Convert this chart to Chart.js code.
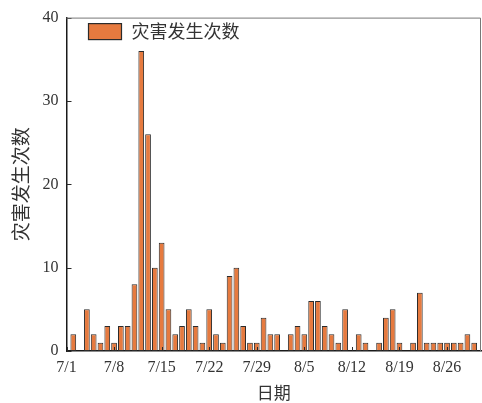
<!DOCTYPE html>
<html>
<head>
<meta charset="utf-8">
<script src="https://cdn.jsdelivr.net/npm/chart.js@4.4.0/dist/chart.umd.min.js"></script>
<style>
  html, body { margin: 0; padding: 0; background: #fff; }
  #wrap { width: 482px; height: 403px; }
</style>
</head>
<body>
<div id="wrap"><canvas id="chart-bar"></canvas></div>
<script>
// daily dates 7/1 .. 8/31
var july = [];
for (var d = 1; d <= 31; d++) july.push("7/" + d);
var august = [];
for (var d = 1; d <= 31; d++) august.push("8/" + d);
var dates = july.concat(august);

var julyCounts = [0, 2, 0, 5, 2, 1, 3, 1, 3, 3, 8, 36, 26, 10, 13, 5, 2, 3, 5, 3, 1, 5, 2, 1, 9, 10, 3, 1, 1, 4, 2];
var augustCounts = [2, 0, 2, 3, 2, 6, 6, 3, 2, 1, 5, 0, 2, 1, 0, 1, 4, 5, 1, 0, 1, 7, 1, 1, 1, 1, 1, 1, 2, 1, 0];
var counts = julyCounts.concat(augustCounts);

var yTicks = [0, 10, 20, 30, 40];
var seriesName = "灾害发生次数";

var serif = "'Liberation Serif', 'Noto Sans CJK SC', serif";
var cjk = "'Noto Sans CJK SC', serif";

// legend inside the plot, inward ticks and the frame
var framePlugin = {
  id: "frame",
  afterDatasetsDraw: function(chart) {
    var ctx = chart.ctx;
    var a = chart.chartArea;
    var xs = chart.scales.x, ys = chart.scales.y;
    ctx.save();
    ctx.strokeStyle = "#2a2a2a";
    ctx.lineWidth = 1;
    yTicks.forEach(function(v) {
      var py = Math.round(ys.getPixelForValue(v)) + 0.5;
      ctx.beginPath();
      ctx.moveTo(a.left, py);
      ctx.lineTo(a.left + 5, py);
      ctx.stroke();
    });
    dates.forEach(function(lab, i) {
      if (i % 7 !== 0) return;
      var px = Math.round(xs.getPixelForValue(i)) + 0.5;
      ctx.beginPath();
      ctx.moveTo(px, a.bottom);
      ctx.lineTo(px, a.bottom - 4);
      ctx.stroke();
    });
    // top / right frame
    ctx.strokeStyle = "#777";
    ctx.beginPath();
    ctx.moveTo(a.left, a.top + 0.5);
    ctx.lineTo(a.right - 0.5, a.top + 0.5);
    ctx.lineTo(a.right - 0.5, a.bottom);
    ctx.stroke();
    // legend
    var ds = chart.data.datasets[0];
    ctx.fillStyle = ds.backgroundColor;
    ctx.fillRect(a.left + 22, a.top + 6, 33, 16);
    ctx.strokeStyle = ds.borderColor;
    ctx.lineWidth = 1.2;
    ctx.strokeRect(a.left + 22, a.top + 6, 33, 16);
    ctx.fillStyle = "#333";
    ctx.font = "18px " + cjk;
    ctx.textBaseline = "middle";
    ctx.fillText(ds.label, a.left + 65, a.top + 14);
    ctx.restore();
  }
};

var ctx = document.getElementById("chart-bar").getContext("2d");
new Chart(ctx, {
  type: "bar",
  data: {
    labels: dates,
    datasets: [{
      label: seriesName,
      data: counts,
      backgroundColor: "#E67A3F",
      borderColor: "#2b2b2b",
      borderWidth: 1,
      borderSkipped: false,
      categoryPercentage: 1,
      barPercentage: 0.84
    }]
  },
  options: {
    responsive: true,
    maintainAspectRatio: false,
    animation: false,
    layout: { padding: { top: 15, right: 1, left: 0, bottom: 0 } },
    plugins: {
      legend: { display: false },
      tooltip: { enabled: false }
    },
    scales: {
      x: {
        offset: false,
        grid: { display: false, drawTicks: false },
        border: { display: true, color: "#1a1a1a", width: 1.5 },
        ticks: {
          autoSkip: false,
          maxRotation: 0,
          padding: 7,
          color: "#333",
          font: { size: 16, family: serif },
          callback: function(v, i) { return i % 7 === 0 ? dates[i] : ""; }
        },
        title: {
          display: true,
          text: "日期",
          color: "#333",
          padding: { top: 0, bottom: 0 },
          font: { size: 17, family: cjk }
        },
        afterFit: function(s) { s.height = 52; s.paddingRight = 0; s.paddingLeft = 0; }
      },
      y: {
        min: 0,
        max: 40,
        afterBuildTicks: function(s) { s.ticks = yTicks.map(function(v) { return { value: v }; }); },
        grid: { display: false, drawTicks: false },
        border: { display: true, color: "#1a1a1a", width: 1.5 },
        ticks: {
          padding: 8,
          color: "#333",
          font: { size: 16, family: serif }
        },
        title: {
          display: true,
          text: seriesName,
          color: "#333",
          padding: { top: 9, bottom: 4 },
          font: { size: 19, family: cjk }
        },
        afterFit: function(s) { s.width = 66.5; }
      }
    }
  },
  plugins: [framePlugin]
});
</script>
</body>
</html>
